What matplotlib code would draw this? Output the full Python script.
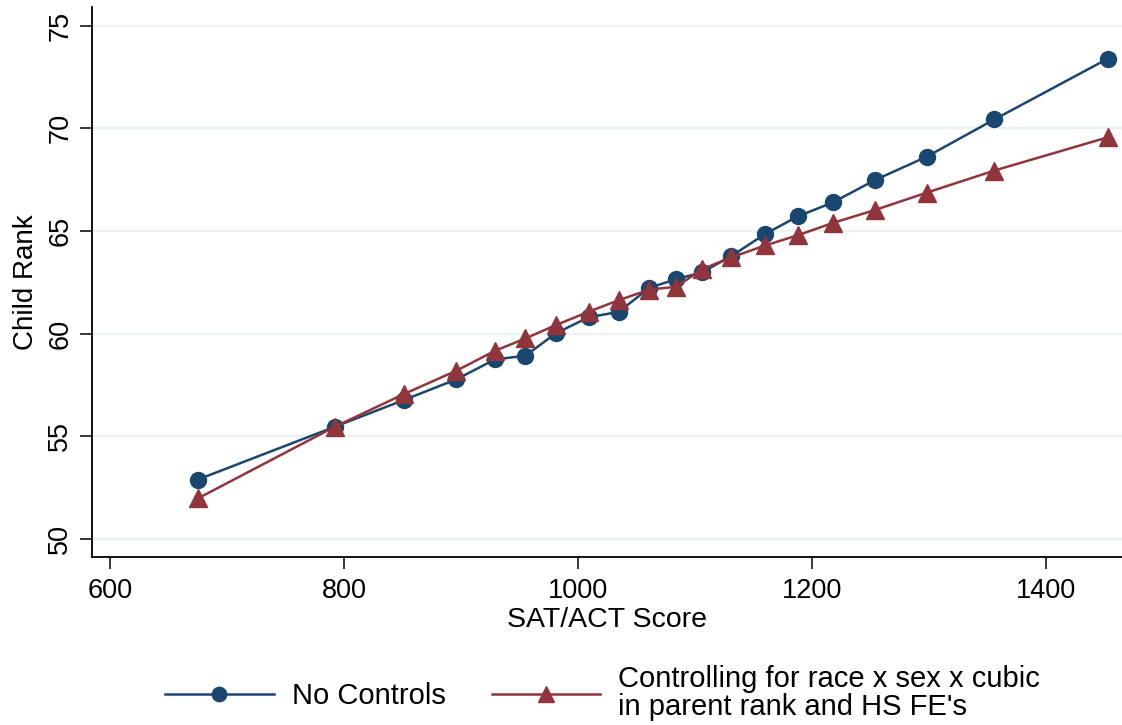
import matplotlib
matplotlib.use("Agg")
import matplotlib.pyplot as plt

matplotlib.rcParams['font.family'] = ['Liberation Sans', 'DejaVu Sans']

# SAT/ACT score bins
sat = [675, 792, 851, 896, 929, 955, 981, 1009, 1035, 1061, 1084, 1106,
       1131, 1160, 1188, 1218, 1254, 1298, 1356, 1453]

# child rank, no controls
rank_raw = [52.9, 55.47, 56.77, 57.78, 58.75, 58.93, 60.02, 60.8, 61.07, 62.24,
            62.66, 62.99, 63.78, 64.86, 65.72, 66.4, 67.49, 68.62, 70.44, 73.4]

# child rank, controlling for race x sex x cubic in parent rank and HS FE's
rank_ctrl = [51.98, 55.47, 57.06, 58.2, 59.17, 59.77, 60.42, 61.07, 61.64, 62.15,
             62.29, 63.14, 63.72, 64.3, 64.8, 65.4, 66.03, 66.87, 67.95, 69.57]

labels = ["No Controls",
          "Controlling for race x sex x cubic\nin parent rank and HS FE's"]

navy = '#1a476f'
maroon = '#90353b'

fig = plt.figure(figsize=(11.22, 7.25), dpi=100)
ax = fig.add_axes([0.082, 0.232, 0.918, 0.758])

ax.plot(sat, rank_raw, color=navy, lw=1.8, marker='o', ms=11.5,
        label=labels[0], zorder=3)
ax.plot(sat, rank_ctrl, color=maroon, lw=1.8, marker='^', ms=12.5,
        label=labels[1], zorder=3)

ax.set_xlim(584.6, 1465)
ax.set_ylim(49.14, 75.9)
ax.set_xticks([600, 800, 1000, 1200, 1400])
ax.set_yticks([50, 55, 60, 65, 70, 75])
ax.grid(axis='y', color='#eaf2f3', lw=1.6, zorder=0)
ax.set_axisbelow(True)

for s in ['top', 'right']:
    ax.spines[s].set_visible(False)
for s in ['left', 'bottom']:
    ax.spines[s].set_linewidth(1.3)

ax.tick_params(axis='both', direction='out', length=8.5, width=1.1,
               labelsize=19.5)
ax.tick_params(axis='x', pad=7)
ax.tick_params(axis='y', pad=5)
for t in ax.get_yticklabels():
    t.set_rotation(90)
    t.set_va('center')

ax.set_xlabel("SAT/ACT Score", fontsize=20.5, labelpad=2)
ax.set_ylabel("Child Rank", fontsize=20, labelpad=6)

leg = fig.legend(loc='center', bbox_to_anchor=(0.537, 0.044), ncol=2,
                 frameon=False, fontsize=21, handlelength=3.73,
                 handletextpad=0.62, columnspacing=1.58, markerscale=0.9)
for t in leg.get_texts():
    t.set_linespacing(1.0)

fig.savefig("out.png", dpi=100)
